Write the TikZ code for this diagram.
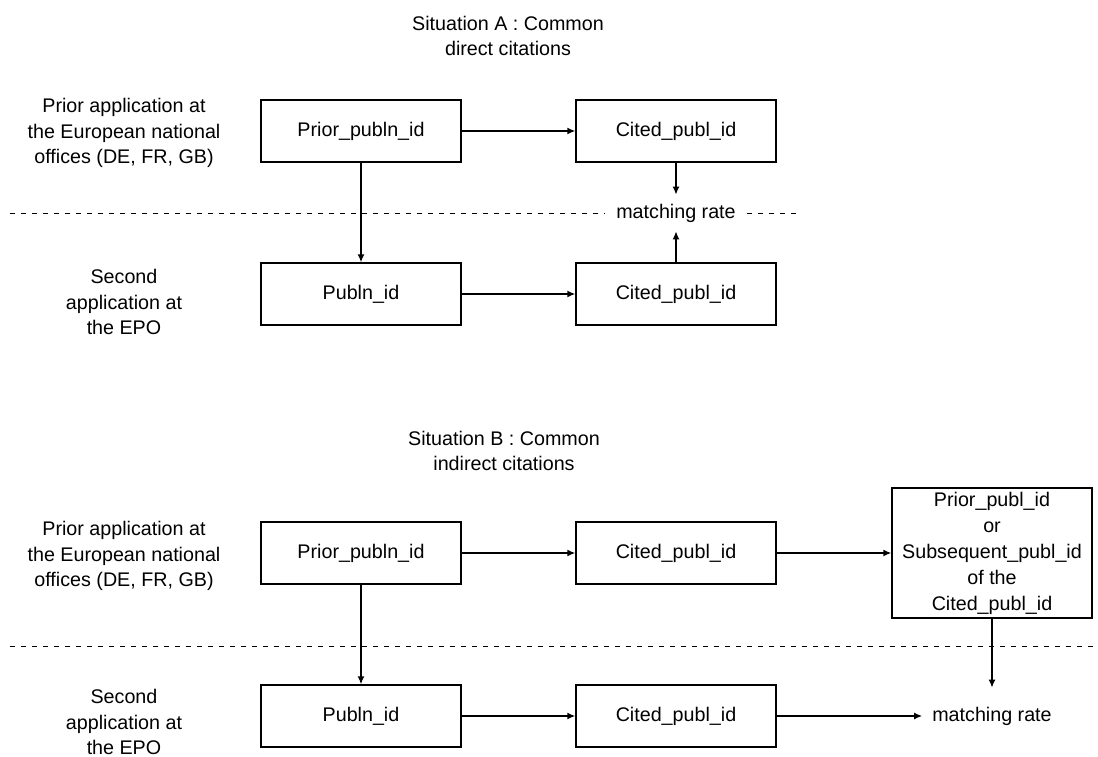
\documentclass[tikz,border=0pt]{standalone}
\usepackage{fontspec}
\setmainfont{Liberation Sans}
\usetikzlibrary{arrows.meta}
\begin{document}
\begin{tikzpicture}[x=1pt,y=-1pt,
  txt/.style={font=\fontsize{19.7}{25.5}\selectfont, align=center, inner sep=0pt},
  box/.style={draw, line width=1.4pt, minimum width=200pt, minimum height=62pt, inner sep=0pt,
              font=\fontsize{19.7}{26}\selectfont, align=center},
  arr/.style={-{Latex[length=8pt,width=7pt]}, line width=1.4pt},
  sepline/.style={dash pattern=on 5pt off 6pt, line width=1pt},
  rate/.style={font=\fontsize{19.7}{25.5}\selectfont, inner xsep=11pt, inner ysep=9pt, fill=white}]
\useasboundingbox[fill=white] (0,0) rectangle (1098,757);

% ---------- Situation A ----------
\node[txt] (titleA) at (508,36) {Situation A : Common\\direct citations};
\coordinate (sAl) at (10,213);
\coordinate (sAr) at (797,213);
\draw[sepline] (sAl) -- (sAr);

\node[txt] (labA1) at (124,133) {Prior application at\\the European national\\offices (DE, FR, GB)};
\node[txt] (labA2) at (124,302) {Second\\application at\\the EPO};

\node[box] (pA) at (361,131) {Prior\_publn\_id};
\node[box] (cA) at (676,131) {Cited\_publ\_id};
\node[box] (qA) at (361,294) {Publn\_id};
\node[box] (dA) at (676,294) {Cited\_publ\_id};
\node[rate] (mA) at (676,213) {matching rate};

\draw[arr] (pA) -- (cA);
\draw[arr] (qA) -- (dA);
\draw[arr] (pA) -- (qA);
\draw[arr] (cA) -- (mA);
\draw[arr] (dA) -- (mA);

% ---------- Situation B ----------
\node[txt] (titleB) at (504,451) {Situation B : Common\\indirect citations};
\coordinate (sBl) at (10,646);
\coordinate (sBr) at (1098,646);
\draw[sepline] (sBl) -- (sBr);

\node[txt] (labB1) at (124,556) {Prior application at\\the European national\\offices (DE, FR, GB)};
\node[txt] (labB2) at (124,722) {Second\\application at\\the EPO};

\node[box] (pB) at (361,553) {Prior\_publn\_id};
\node[box] (cB) at (676,553) {Cited\_publ\_id};
\node[box, minimum height=130pt] (tB) at (992,553) {Prior\_publ\_id\\or\\Subsequent\_publ\_id\\of the\\Cited\_publ\_id};
\node[box] (qB) at (361,716) {Publn\_id};
\node[box] (dB) at (676,716) {Cited\_publ\_id};
\node[rate, fill=none, inner xsep=10pt] (mB) at (992,716) {matching rate};

\draw[arr] (pB) -- (cB);
\draw[arr] (cB) -- (tB);
\draw[arr] (pB) -- (qB);
\draw[arr] (qB) -- (dB);
\draw[arr] (dB) -- (mB);
\draw[arr, shorten >=10pt] (tB.south) -- (tB.south |- mB.north);
\end{tikzpicture}
\end{document}
